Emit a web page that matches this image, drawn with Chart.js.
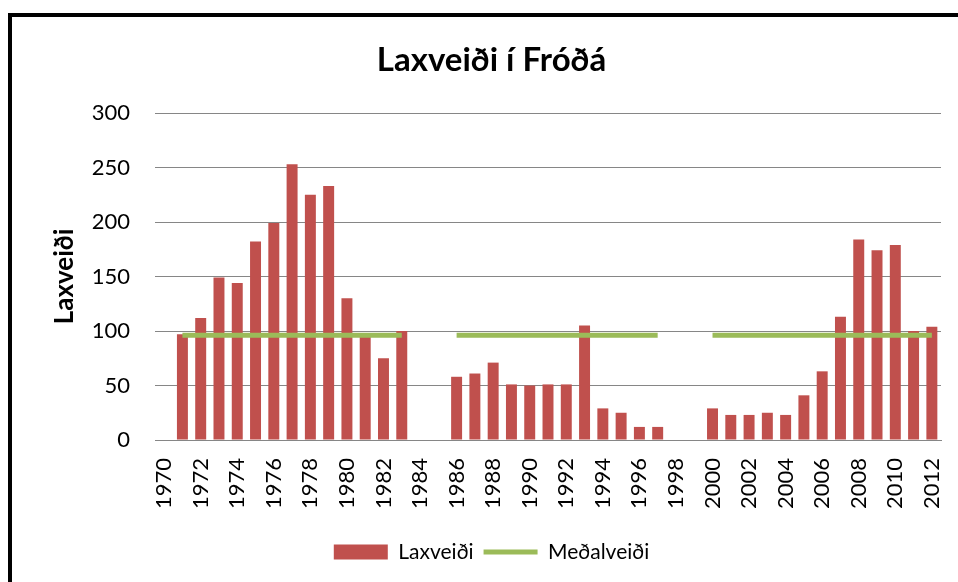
<!DOCTYPE html>
<html>
<head>
<meta charset="utf-8">
<script src="https://cdn.jsdelivr.net/npm/chart.js@4.4.1/dist/chart.umd.min.js"></script>
<style>
  html, body { margin: 0; padding: 0; background: #fff; }
  #wrap { position: relative; width: 958px; height: 582px; overflow: hidden; }
  #frame { position: absolute; left: 8px; top: 13px; width: 1000px; height: 1000px;
           border-top: 4px solid #000; border-left: 4px solid #000; box-sizing: border-box; }
  canvas { position: absolute; left: 0; top: 0; }
</style>
</head>
<body>
<div id="wrap">
  <div id="frame"></div>
  <canvas id="c" width="958" height="582"></canvas>
</div>
<script>
const years = [];
for (let y = 1970; y <= 2012; y++) years.push(String(y));

// Laxveiði (catch) per year, null = no data
const laxveidi = [
  null, 97, 112, 149, 144, 182, 199, 253, 225, 233, 130, 95, 75, 100,
  null, null,
  58, 61, 71, 51, 50, 51, 51, 105, 29, 25, 12, 12,
  null, null,
  29, 23, 23, 25, 23, 41, 63, 113, 184, 174, 179, 100, 104
];

// Meðalveiði (average) per year, null = gap
const medalveidi = [
  null, 96, 96, 96, 96, 96, 96, 96, 96, 96, 96, 96, 96, 96,
  null, null,
  96, 96, 96, 96, 96, 96, 96, 96, 96, 96, 96, 96,
  null, null,
  96, 96, 96, 96, 96, 96, 96, 96, 96, 96, 96, 96, 96
];

const yTicks = [0, 50, 100, 150, 200, 250, 300];

const FONT = 'Lato, "Open Sans", sans-serif';

new Chart(document.getElementById('c'), {
  data: {
    labels: years,
    datasets: [
      {
        type: 'bar',
        label: 'Laxveiði',
        data: laxveidi,
        backgroundColor: '#C0504D',
        borderWidth: 0,
        barPercentage: 0.6,
        categoryPercentage: 1.0,
        order: 1,
        pointStyle: 'rect'
      },
      {
        type: 'line',
        label: 'Meðalveiði',
        data: medalveidi,
        borderColor: '#9BBB59',
        backgroundColor: '#9BBB59',
        borderWidth: 5,
        pointRadius: 0,
        spanGaps: false,
        fill: false,
        order: 0,
        pointStyle: 'line'
      }
    ]
  },
  options: {
    responsive: false,
    animation: false,
    layout: { padding: { left: 25, right: 0, top: 0, bottom: 9.5 } },
    plugins: {
      title: {
        display: true,
        text: 'Laxveiði í Fróðá',
        color: '#000',
        font: { family: FONT, size: 33, weight: 'bold' },
        padding: { top: 40.2, bottom: 33.2 }
      },
      legend: {
        position: 'bottom',
        labels: {
          sort: (a, b) => a.datasetIndex - b.datasetIndex,
          usePointStyle: true,
          pointStyleWidth: 54,
          boxHeight: 15,
          color: '#000',
          padding: 10,
          font: { family: FONT, size: 21 }
        }
      },
      tooltip: { enabled: false }
    },
    scales: {
      x: {
        grid: { display: false, drawTicks: false },
        border: { display: true, color: '#868686', width: 1 },
        ticks: {
          autoSkip: false,
          minRotation: 90,
          maxRotation: 90,
          padding: 18,
          color: '#000',
          font: { family: FONT, size: 22 },
          callback: function(val, idx) {
            const lab = this.getLabelForValue(val);
            return (Number(lab) % 2 === 0) ? lab : '';
          }
        },
        afterFit: (s) => { s.height = 91.5; s.paddingLeft = 0; s.paddingRight = 0; }
      },
      y: {
        min: 0,
        max: 300,
        afterBuildTicks: (s) => { s.ticks = yTicks.map(v => ({ value: v })); },
        grid: { color: '#868686', lineWidth: 1, drawTicks: false },
        border: { display: false },
        ticks: {
          padding: 25,
          color: '#000',
          font: { family: FONT, size: 22 }
        },
        title: {
          display: true,
          text: 'Laxveiði',
          color: '#000',
          font: { family: FONT, size: 26, weight: 'bold' },
          padding: { top: 24.4, bottom: 0 }
        },
        afterFit: (s) => { s.width = 130; }
      },
      y2: {
        position: 'right',
        display: true,
        grid: { display: false, drawTicks: false },
        border: { display: false },
        ticks: { display: false },
        afterFit: (s) => { s.width = 17; s.paddingTop = 0; s.paddingBottom = 0; }
      }
    }
  }
});
</script>
</body>
</html>
